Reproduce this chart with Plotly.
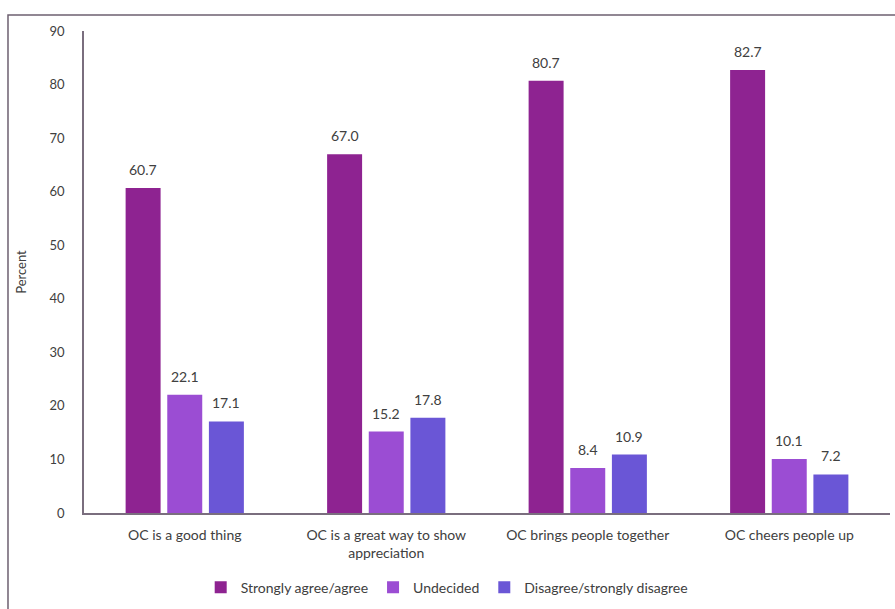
import plotly.graph_objects as go

categories = [
    "OC is a good thing",
    "OC is a great way to show<br>appreciation",
    "OC brings people together",
    "OC cheers people up",
]
series_names = ["Strongly agree/agree", "Undecided", "Disagree/strongly disagree"]
agree = [60.7, 67.0, 80.7, 82.7]
undecided = [22.1, 15.2, 8.4, 10.1]
disagree = [17.1, 17.8, 10.9, 7.2]
y_ticks = [0, 10, 20, 30, 40, 50, 60, 70, 80, 90]

colors = ["#8E2391", "#9B4DD3", "#6A56D6"]
font_family = "Lato, 'Open Sans', sans-serif"
text_color = "#404040"

fig = go.Figure()
for i, (name, vals, col) in enumerate(zip(series_names, [agree, undecided, disagree], colors)):
    fig.add_trace(go.Bar(
        x=categories, y=vals, name=name,
        marker=dict(color=col, line=dict(width=0)),
        offsetgroup=str(i),
    ))

fig.update_layout(
    width=895, height=609,
    margin=dict(l=84, r=5, t=31, b=93),
    paper_bgcolor="white", plot_bgcolor="white",
    barmode="group", bargap=0.38, bargroupgap=0.16,
    font=dict(family=font_family, size=14, color=text_color),
    showlegend=True,
    legend=dict(orientation="h", x=0.45, xanchor="center", y=-0.155, yanchor="middle",
                font=dict(size=14, color=text_color), itemwidth=30, traceorder="normal"),
    xaxis=dict(showline=True, linecolor="#7a6e7e", linewidth=1.5, ticks="",
               ticklabelstandoff=8,
               tickfont=dict(size=14, color=text_color)),
    yaxis=dict(range=[0, 90], tickvals=y_ticks, showgrid=False, zeroline=False,
               showline=True, linecolor="#7a6e7e", linewidth=1.5, ticks="",
               ticklabelstandoff=15,
               tickfont=dict(size=13, color=text_color),
               title=dict(text="Percent", font=dict(size=13, color=text_color), standoff=20)),
    shapes=[dict(type="rect", xref="paper", yref="paper",
                 x0=-0.0943, x1=1.02, y0=-0.25, y1=1.033,
                 line=dict(color="#6d6070", width=1.5), fillcolor="rgba(0,0,0,0)", layer="below")],
)

# Value labels centred above each bar of the grouped layout
n_series = 3
group_frac = 1 - 0.38
slot = group_frac / n_series
for i, vals in enumerate([agree, undecided, disagree]):
    for j, v in enumerate(vals):
        xpos = j - group_frac / 2 + slot * (i + 0.5)
        fig.add_annotation(
            x=xpos, y=v, xref="x", yref="y", text=f"{v:.1f}",
            showarrow=False, yanchor="bottom", yshift=8,
            font=dict(size=14, color=text_color, family=font_family),
        )

fig.update_xaxes(type="category")
fig.write_html("out.html")
